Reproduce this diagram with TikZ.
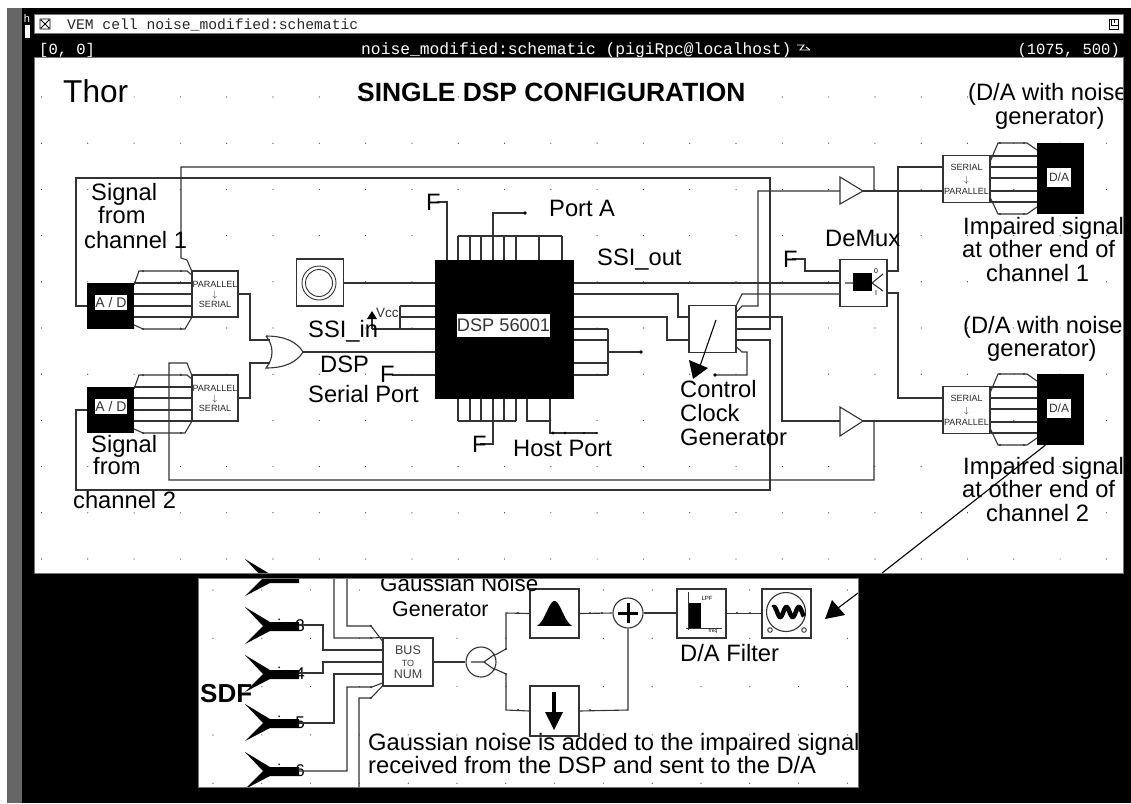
\documentclass[tikz,border=0pt]{standalone}
\usepackage{fontspec}
\setmainfont{Liberation Sans}
\newfontfamily\vemfont{Liberation Mono}
\definecolor{wirecol}{gray}{0.2}
\newcommand{\fsz}[1]{\fontsize{#1}{#1}\selectfont}
\tikzset{
  wire/.style={draw=wirecol, line width=1.1pt},
  blockbox/.style={draw=wirecol, fill=white, line width=1.1pt, inner sep=0pt, minimum width=47pt, minimum height=47pt},
  blackbox/.style={fill=black, inner sep=0pt, minimum width=47pt},
  tagbox/.style={fill=white, inner sep=0pt, font=\fsz{14}, text=black!80},
  lbl/.style={anchor=base west, inner sep=0pt, font=\fsz{23.7}},
  tinylbl/.style={font=\fsz{9}, inner sep=0pt, align=center, text=black!85},
}
\begin{document}
\begin{tikzpicture}[x=1pt, y=-1pt]
\useasboundingbox (0,0) rectangle (1131,803);
% Window frame
\fill[white] (0,0) rectangle (1131,803);
\fill[black!60] (7,8) rectangle (22,803);
\fill[black] (22,8) rectangle (1131,803);
\fill[white] (34,14) rectangle (1123,33);
\fill[white] (34,57) rectangle (1123,573);
\fill[white] (198,578) rectangle (858,787);
\fill[white] (25,25) rectangle (30,38);
\node[text=white, font=\vemfont\fsz{11}, inner sep=0pt] (hmark) at (27,19) {h};
\draw[black, line width=0.8pt] (40,19) rectangle (50,29) (41,20) -- (49,28) (41,28) -- (49,20);
\draw[black, line width=0.8pt] (1109,19) rectangle (1118,29) (1111,19) -- (1111,25) -- (1118,25) (1114,19) -- (1114,23);
\node[anchor=base west, inner sep=0pt, font=\vemfont\fsz{14.7}, text=black!85] (title) at (67,29) {VEM cell noise\_modified:schematic};
\node[anchor=base west, inner sep=0pt, font=\vemfont\fsz{15.5}, text=white] (origin) at (39,54) {[0, 0]};
\node[anchor=base west, inner sep=0pt, font=\vemfont\fsz{16.3}, text=white] (status) at (361,54) {noise\_modified:schematic (pigiRpc@localhost)};
\node[anchor=base east, inner sep=0pt, font=\vemfont\fsz{15.5}, text=white] (extent) at (1120,54) {(1075, 500)};
\draw[white, line width=0.9pt] (797,45) -- (804,45) -- (800,50) -- (810,50) (806,47) -- (810,50);
% Grid dots
\foreach \i in {0,...,23}{
  \foreach \j in {0,...,10}{
    \fill[black!80] ({41.5+46.3*\i},{97+46.2*\j}) circle (0.6);
  }
}
\foreach \i in {0,...,13}{
  \foreach \j in {0,...,4}{
    \fill[black!80] ({213+48.8*\i},{590+48.3*\j}) circle (0.6);
  }
}
% DSP and clock
\node[blackbox, minimum width=139pt, minimum height=139pt] (dsp) at (504.5,329.5) {};
\node[fill=white, inner sep=0pt, minimum width=93pt, minimum height=23pt, font=\fsz{18.2}, text=black!80] (dsptag) at (503.5,325.5) {DSP 56001};
\node[blockbox] (osc) at (320,282.5) {};
\draw[wirecol, line width=0.9pt] (319,283) circle (17) (319,283) circle (13.5);
\node[blockbox] (clk) at (712.5,329) {};
% A/D and parallel to serial
\foreach \ad/\ps/\o in {ad1/ps1/0, ad2/ps2/104}{
  \begin{scope}[shift={(0,\o)}]
    \foreach \r in {283,294,306,317}{
      \draw[wire] (134,\r) -- (192,\r);
      \fill[wirecol] (143,\r) circle (1.2) (181,\r) circle (1.2);
    }
    \draw[wire] (134,285) -- (139,271) -- (187,271) -- (192,275);
    \draw[wire] (134,325) -- (143,329) -- (185,329) -- (192,317);
    \fill[wirecol] (143,271) circle (1.2) (181,271) circle (1.2) (143,329) circle (1.2) (181,329) circle (1.2);
    \node[blackbox, minimum height=46pt] (\ad) at (110.5,306) {};
    \node[tagbox, minimum width=28pt, minimum height=15pt] (\ad tag) at (111,302.5) {A / D};
    \node[blockbox, tinylbl, minimum width=46pt, minimum height=46pt, font=\fontsize{9}{10}\selectfont] (\ps) at (215,294) {PARALLEL\\$\downarrow$\\SERIAL};
  \end{scope}
}
% Serial to parallel and D/A
\foreach \sp/\da/\o in {sp1/da1/0, sp2/da2/231}{
  \begin{scope}[shift={(0,\o)}]
    \foreach \r in {156,167,178,191,202}{
      \draw[wire] (990,\r) -- (1037,\r);
      \fill[wirecol] (1000,\r) circle (1.2) (1024,\r) circle (1.2);
    }
    \draw[wire] (990,162) -- (998,143) -- (1027,143) -- (1037,150);
    \draw[wire] (990,197) -- (998,214) -- (1027,214) -- (1037,207);
    \fill[wirecol] (1000,143) circle (1.2) (1024,143) circle (1.2) (1000,214) circle (1.2) (1024,214) circle (1.2);
    \node[blackbox, minimum height=71pt] (\da) at (1060,178.5) {};
    \node[tagbox, minimum width=24pt, minimum height=19pt, font=\fsz{12}] (\da tag) at (1059,177.5) {D/A};
    \node[blockbox, tinylbl, font=\fontsize{9}{13}\selectfont] (\sp) at (966.5,179) {SERIAL\\[-1pt]$\downarrow$\\[-1pt]PARALLEL};
  \end{scope}
}
% DeMux
\node[blockbox] (demux) at (863.5,283) {};
\fill[black] (853,273) rectangle (872,291);
\draw[wire] (845,283) -- (853,283) (872,283) -- (883,274) (872,283) -- (883,291);
\node[font=\fsz{7}, inner sep=0pt] (demuxa) at (876,271) {0};
\node[font=\fsz{7}, inner sep=0pt] (demuxb) at (876,293) {I};
% Buffers and OR gate
\coordinate (buf1in) at (840,191);
\coordinate (buf1out) at (863,191);
\coordinate (buf2in) at (840,421);
\coordinate (buf2out) at (863,421);
\draw[wire, fill=white] (buf1in) -- (840,177) -- (buf1out) -- (840,204) -- cycle;
\draw[wire, fill=white] (buf2in) -- (840,407) -- (buf2out) -- (840,436) -- cycle;
\coordinate (orout) at (303,352);
\draw[wire] (266,336) .. controls (285,336) and (297,342) .. (orout) .. controls (297,362) and (285,368) .. (266,368) .. controls (274,358) and (274,346) .. (266,336);
% Feedback wires
\draw[wire] (buf1out) -- (874,191) -- (874,167) -- (181,167) -- (181,258) -- (187,260) -- (ps1.north west);
\draw[wire] (ad1.west |- 0,306) -- (76,306) -- (76,178) -- (770,178) -- (770,329) -- (clk.east |- 0,329);
\draw[wire] (clk.east |- 0,340) -- (770,340) -- (770,490) -- (76,490) -- (76,410) -- (ad2.west |- 0,410);
\draw[wire] (buf2out) -- (874,421) -- (874,480) -- (169,480) -- (169,363) -- (187,363) -- (ps2.north west);
% Clock outputs
\draw[wire] (clk.east |- 0,312) -- (742,306) -- (758,306) -- (758,191) -- (buf1in);
\draw[wire] (clk.east |- 0,317) -- (782,317) -- (782,421) -- (buf2in);
\draw[wire] (clk.east |- 0,305) -- (742,294) -- (demux.west |- 0,294);
\draw[wire] (clk.east |- 0,347) -- (742,352) -- (747,352) -- (747,375) -- (715,375);
\fill[black] (715,375) circle (1.8);
\draw[wire] (buf1out) -- (sp1.west |- buf1out);
\draw[wire] (buf2out) -- (sp2.west |- buf2out);
\draw[wire] (demux.east |- 0,271) -- (898,271) -- (898,167) -- (sp1.west |- 0,167);
\draw[wire] (demux.east |- 0,293) -- (898,293) -- (898,398) -- (sp2.west |- 0,398);
% DSP right side
\draw[wire] (dsp.east |- 0,283) -- (demux.west |- 0,283);
\draw[wire] (dsp.east |- 0,294) -- (678,294) -- (678,317) -- (clk.west |- 0,317);
\draw[wire] (dsp.east |- 0,317) -- (667,317) -- (667,340) -- (clk.west |- 0,340);
\foreach \r in {329,340,363,375}{
  \draw[wire] (dsp.east |- 0,\r) -- (608,\r);
}
\draw[wire] (608,329) -- (608,375);
\draw[wire] (608,352) -- (641,352);
\fill[black] (641,352) circle (1.8);
% DSP top side
\foreach \x in {458,470,481,493,504,516,539,562}{
  \draw[wire] (\x,236) -- (\x,260);
  \fill[wirecol] (\x,248) circle (1.2);
}
\draw[wire] (458,236) -- (562,236);
\draw[wire] (493,236) -- (493,213) -- (525,213);
\fill[black] (525,213) circle (1.8);
\draw[wire] (447,260) -- (447,202) -- (437,202);
\fill[wirecol] (447,248) circle (1.2) (445,202) circle (1.2);
% DSP bottom side
\foreach \x in {458,470,481,493,504,516}{
  \draw[wire] (\x,399) -- (\x,421);
  \fill[wirecol] (\x,410) circle (1.2);
}
\draw[wire] (458,421) -- (516,421);
\draw[wire] (493,421) -- (493,444) -- (480,444);
\draw[wire] (527,399) -- (527,421) -- (550,421);
\draw[wire] (550,399) -- (550,433) -- (597,433);
\fill[black] (553,433) circle (1.6) (565,433) circle (1.4) (584,433) circle (1.2) (597,433) circle (1.2);
% DSP left side
\draw[wire] (osc.east |- 0,283) -- (dsp.west |- 0,283);
\draw[wire] (372,329) -- (dsp.west |- 0,329);
\draw[wire] (400,306) -- (dsp.west |- 0,306);
\draw[wire] (400,317) -- (dsp.west |- 0,317);
\draw[wire] (400,306) -- (400,329);
\draw[wire] (372,329) -- (372,315);
\fill[black] (372,311) -- (377,319) -- (367,319) -- cycle;
\draw[wire] (orout) -- (dsp.west |- orout);
\draw[wire] (392,375) -- (dsp.west |- 0,375);
\foreach \p in {(353,283),(423,283),(423,306),(423,317),(423,329),(423,352),(423,375),(389,329),(404,375)}{
  \fill[wirecol] \p circle (1.2);
}
% Parallel to serial outputs
\draw[wire] (ps1.east) -- (250,294) -- (250,340) -- (270,340);
\draw[wire] (ps2.east) -- (250,398) -- (250,363) -- (270,363);
\fill[wirecol] (250,294) circle (1.3) (250,398) circle (1.3);
% DeMux select
\draw[wire] (792,259) -- (805,259) -- (805,271) -- (demux.west |- 0,271);
% Control arrow
\draw[black, line width=1.1pt] (716,320) -- (700,366);
\fill[black] (689,360) -- (708,368) -- (693,379) -- cycle;
% Expansion line
\draw[black, line width=1.1pt] (da2.south west) ++(9,0) -- (882,573);
% Main labels
\node[lbl, font=\fsz{31.6}] (thor) at (63,102) {Thor};
\node[lbl, font=\bfseries\fsz{26.4}] (heading) at (357,101) {SINGLE DSP CONFIGURATION};
\node[lbl] (siga) at (91,200) {Signal};
\node[lbl] (sigb) at (98,223) {from};
\node[lbl] (sigc) at (84,248) {channel 1};
\node[lbl] (sigd) at (91,452) {Signal};
\node[lbl] (sige) at (93,474) {from};
\node[lbl] (sigf) at (73,508) {channel 2};
\node[lbl] (ssiin) at (308,337) {SSI\_in};
\node[lbl] (porta) at (308,402) {Serial Port};
\node[lbl] (dspname) at (320,372) {DSP};
\node[anchor=base west, inner sep=0pt, font=\fsz{13.5}, text=black!80] (vcc) at (376,317) {Vcc};
\node[lbl] (fa) at (380,382) {F};
\node[lbl] (fb) at (426,210) {F};
\node[lbl] (fc) at (472,452) {F};
\node[lbl] (fd) at (783,267) {F};
\node[lbl] (portb) at (549,216) {Port A};
\node[lbl] (ssiout) at (597,265) {SSI\_out};
\node[lbl] (host) at (513,456) {Host Port};
\node[lbl] (ctla) at (680,397) {Control};
\node[lbl] (ctlb) at (680,421) {Clock};
\node[lbl] (ctlc) at (680,445) {Generator};
\node[lbl] (demuxlbl) at (825,246) {DeMux};
\node[lbl] (noisea) at (968,100) {(D/A with noise};
\node[lbl] (noiseb) at (995,124) {generator)};
\node[lbl] (impa) at (963,234) {Impaired signal};
\node[lbl] (impb) at (962,257) {at other end of};
\node[lbl] (impc) at (986,281) {channel 1};
\node[lbl] (noisec) at (963,333) {(D/A with noise};
\node[lbl] (noised) at (987,356) {generator)};
\node[lbl] (impd) at (963,474) {Impaired signal};
\node[lbl] (impe) at (962,497) {at other end of};
\node[lbl] (impf) at (986,521) {channel 2};
% SDF inputs
\foreach \y in {578,626,674,723,771}{
  \begin{scope}[shift={(0,\y)}]
    \fill[black] (245,-19) -- (270,-4) -- (299,-4) -- (299,5) -- (270,5) -- (245,18) -- (263,0) -- cycle;
  \end{scope}
}
\foreach \y/\n in {626/3, 674/4, 723/5, 771/6}{
  \begin{scope}[shift={(0,\y)}]
    \node[anchor=base east, inner sep=0pt, font=\fsz{17}] (in\n) at (305,5) {in \n};
  \end{scope}
}
% Noise generator blocks
\node[blockbox, minimum width=50pt, minimum height=48pt, font=\fontsize{12.5}{14}\selectfont, align=center, text=black!75] (bus) at (408,662) {BUS\\[-2pt]{\fsz{9}TO}\\[-2pt]NUM};
\node[draw=wirecol, fill=white, circle, line width=1.1pt, minimum size=30pt, inner sep=0pt] (fork) at (481,662) {};
\node[draw=wirecol, fill=white, circle, line width=1.1pt, minimum size=30pt, inner sep=0pt] (adder) at (628,613) {};
\node[blockbox, minimum width=49pt, minimum height=49pt] (bell) at (554.5,613.5) {};
\node[blockbox, minimum width=49pt, minimum height=50pt] (down) at (554.5,711) {};
\node[blockbox, minimum width=49pt, minimum height=49pt] (filter) at (701.5,613.5) {};
\node[blockbox, minimum width=49pt, minimum height=49pt] (wave) at (786.5,613.5) {};
% Block contents
\fill[black] plot[domain=537:572, samples=40] (\x,{628-27*exp(-((\x-554.5)/11)^2)}) -- cycle;
\draw[black, line width=3pt] (618,613) -- (638,613) (628,603) -- (628,623);
\draw[black, line width=3.5pt] (554,692) -- (554,716);
\fill[black] (545,712) -- (563,712) -- (554,730) -- cycle;
\fill[black] (689,603) rectangle (701,628);
\draw[wirecol, line width=0.8pt] (688,592) -- (688,630) (686,628) -- (722,628);
\node[font=\fsz{6}, inner sep=0pt] (lpf) at (707,598) {LPF};
\node[font=\fsz{5}, inner sep=0pt] (freq) at (713,631) {freq};
\draw[wirecol, line width=1.1pt] (786,612) circle (19.5);
\draw[wirecol, line width=0.9pt] (770,630) circle (2.3) (804,630) circle (2.3);
\draw[black, line width=4.5pt] plot[domain=773:804, samples=60] (\x,{612-5*sin(29*(\x-773)+60)});
\draw[wire] (471,662) -- (484,662) -- (495,654) (484,662) -- (495,670);
% Noise generator wires
\draw[wire] (299,625) -- (323,625) -- (323,650) -- (bus.west |- 0,650);
\draw[wire] (299,673) -- (323,673) -- (323,662) -- (bus.west |- 0,662);
\draw[wire] (299,723) -- (334,723) -- (334,674) -- (bus.west |- 0,674);
\draw[wire] (299,771) -- (347,771) -- (347,687) -- (372,687) -- (bus.west |- 0,683);
\draw[wire] (347,574) -- (347,626) -- (371,626) -- (bus.west |- 0,641);
\draw[wire] (334,574) -- (334,638) -- (372,638) -- (bus.north west);
\draw[wire] (359,787) -- (359,698) -- (371,698) -- (bus.west |- 0,686);
\draw[wire] (bus.east) -- (fork.west);
\draw[wire] (495,655) -- (506,649) -- (506,613) -- (bell.west);
\draw[wire] (495,669) -- (506,674) -- (506,710) -- (down.west);
\draw[wire] (bell.east) -- (adder.west);
\draw[wire] (down.east) -- (628,710) -- (adder.south);
\draw[wire] (adder.east) -- (filter.west |- adder.east);
\draw[wire] (filter.east) -- (wave.west);
\foreach \p in {(371,626),(371,638),(371,650),(371,662),(371,674),(371,687),(371,698),(443,662),(456,662),(506,649),(506,674),(518,613),(518,710),(590,613),(602,613),(651,613),(664,613),(737,613),(750,613),(590,710)}{
  \fill[wirecol] \p circle (1.2);
}
% Panel labels
\node[lbl, font=\fsz{22.4}] (gaussa) at (380,591) {Gaussian Noise};
\node[lbl, font=\fsz{21.4}] (gaussb) at (392,616) {Generator};
\node[lbl, font=\bfseries\fsz{26}] (sdf) at (200,702) {SDF};
\node[lbl] (filterlbl) at (680,661) {D/A Filter};
\node[lbl] (notea) at (368,750) {Gaussian noise is added to the impaired signal};
\node[lbl] (noteb) at (368,773) {received from the DSP and sent to the D/A};
% Pointer into the panel
\draw[black, line width=1.1pt] (858,593) -- (838,608);
\fill[black] (825,619) -- (832,600) -- (845,615) -- cycle;
% Masks over clipped parts
\fill[black] (198,574) rectangle (858,578);
\fill[black] (198,787) rectangle (858,803);
\fill[black] (858,574) rectangle (1123,803);
\fill[black] (1123,8) rectangle (1131,803);
\draw[black!55, line width=0.9pt] (34,57) rectangle (1123,573);
\draw[black!55, line width=0.9pt] (34,14) rectangle (1123,33);
\draw[black!55, line width=0.9pt] (198,578) rectangle (858,787);
\end{tikzpicture}
\end{document}
